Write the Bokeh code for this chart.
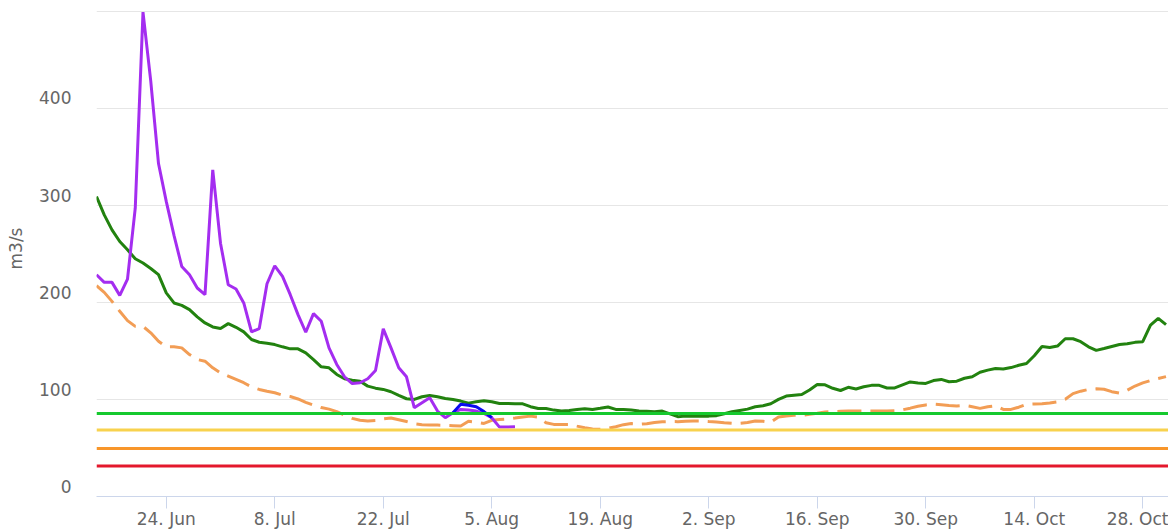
import pandas as pd
from bokeh.plotting import figure
from bokeh.models import Range1d, LinearAxis, FixedTicker, Span
from bokeh.embed import file_html
from bokeh.resources import INLINE

# ---------------- data ----------------
start_date = "2024-06-15"
tick_dates = ["2024-06-24", "2024-07-08", "2024-07-22", "2024-08-05", "2024-08-19",
              "2024-09-02", "2024-09-16", "2024-09-30", "2024-10-14", "2024-10-28"]
tick_labels = ["24. Jun", "8. Jul", "22. Jul", "5. Aug", "19. Aug",
               "2. Sep", "16. Sep", "30. Sep", "14. Oct", "28. Oct"]
y_grid_ticks = [0, 100, 200, 300, 400, 500]
y_label_ticks = [0, 100, 200, 300, 400]

# observed discharge this year (purple)
observed = [228.5, 220.6, 220.6, 207.2, 224, 297, 499, 428, 343, 304,
            269, 237, 228.5, 214.8, 208, 336.4, 261, 218.2, 213.8, 199.4,
            169.6, 173, 219.2, 237.7, 226.7, 207.9, 187.4, 169.2, 188.4, 180.5,
            153.1, 136, 123.3, 116.4, 117.2, 121.3, 129.8, 172.7, 153.1, 132.6,
            123.3, 91.5, 96.6, 101.7, 88, 81.2, 86.3, 89.7, 89, 88,
            85.6, 81.2, 71.5, 71.5, 71.9]

# short blue segment (starts 31 Jul)
blue_start = "2024-07-31"
blue_values = [86.3, 95, 94, 92.5, 87.5, 81.2]

# median (dark green)
median = [309, 290.1, 274.7, 262.7, 254.2, 244.9, 240.5, 234.9, 228.5, 209.7,
          199.4, 196.9, 192.5, 185, 178.8, 174.7, 173, 178.1, 174.3, 169.6,
          161.7, 158.9, 157.9, 156.5, 154.2,
          152.1, 152.1, 148, 141.1, 133.6, 132.6, 125.7, 121.3, 119.8, 118.8,
          113.7, 111.6, 110.3, 107.9, 104.1, 100.7, 100, 102.8, 104.1, 102.8,
          101, 100, 98.3, 96.2, 97.6, 98.6, 97.6, 95.9, 95.9, 95.6, 95.5, 92.5,
          90.7, 90.7, 89, 88, 88.7, 89.6, 90.5, 89.7, 90.9, 92.2,
          89.7, 89.7, 89, 88, 87.7, 87.4, 88, 85.2, 82.2, 82.8,
          82.8, 82.8, 82.8, 83.3, 85.3, 87.3, 88.7, 90, 92.5,
          93.5, 95.5, 100, 103.5, 104.4, 105, 109.8, 115.4, 115, 111.5,
          109.2, 112.5, 110.8, 113, 114.5, 114.5, 111.8, 111.8, 115, 118,
          117, 116.5, 119.4, 120.6, 118.2, 118.8, 121.8, 123.4, 128, 130.2,
          131.8, 131.3, 132.8, 135.2, 137, 145, 154.6, 153.5, 155, 162.5,
          162.5, 159.5, 154.2, 150.5, 152.4, 154.5, 156.6, 157.3, 158.8, 159.5,
          176.5, 183.5, 177]

# low quantile (dashed orange)
low_quantile = [217.2, 210.3, 201, 190.8, 181.2, 175.3, 175.3, 168.6, 160, 154.2,
                154.2, 153.1, 146.2, 141.1, 139.4, 132.6, 127.4, 124, 120.6, 117.2,
                113, 110.3, 108.5, 106.9, 104.4,
                103, 100.5, 97, 94.2, 91.6, 90, 87.5, 83.8, 80.5, 78.5,
                77.7, 78.2, 80, 80.8, 79, 77.2, 75, 74, 73.6, 73.6,
                73.4, 73, 72.6, 77.5, 76.5, 75.3, 78.5, 79.3, 79.8, 80.8,
                82, 82.8, 81.8, 76, 74.3, 74.3, 74.3, 72.5, 70.9, 69.6,
                69.2, 70.2, 71.9, 74, 75.1, 74.5, 75, 76.2, 77, 77.2,
                77.1, 77.6, 77.7, 77.7, 77.2, 76.8, 76.1, 75.5, 75.5, 76.2, 77.8,
                77.5, 76.5, 82, 83, 83.6, 83.6, 84.7, 85.8, 87, 87.5,
                87.8, 88, 88, 88, 88, 88, 88, 88.3, 89.3, 91,
                93, 94.3, 95.1, 94.5, 93.8, 93.2, 93.9, 92.5, 90.8, 92.5,
                93.5, 89.7, 89.7, 92, 95, 95.3, 95.6, 96.3, 97.5, 100.2,
                106, 108.5, 110.3, 110.9, 110.5, 108, 106.5, 109.5, 113.8, 117,
                119.5, 121.5, 123.5]

# threshold levels (m3/s)
thresholds = [85.5, 68.5, 49.5, 31.5]
threshold_colors = ["#16c92e", "#f8d24e", "#f8962a", "#e4182c"]

# ---------------- layout ----------------
W, H = 1168, 531
LEFT, BOTTOM = 96, 33
FRAME_W = W - LEFT
FRAME_H = H - BOTTOM
PX_PER_DAY = 7.75
TOP_GRID_PX = 10.7
Y_END = 500 * FRAME_H / (FRAME_H - TOP_GRID_PX)
LABEL_SHIFT = 10.3 * Y_END / FRAME_H

def ms(d):
    return pd.Timestamp(d).value / 1e6

dates = pd.date_range(start_date, periods=len(median), freq="D")
obs_dates = dates[:len(observed)]
blue_dates = pd.date_range(blue_start, periods=len(blue_values), freq="D")

x0 = ms(start_date)
x1 = x0 + FRAME_W / PX_PER_DAY * 86400000.0

p = figure(width=W, height=H, x_axis_type="datetime",
           x_range=Range1d(x0, x1), y_range=Range1d(0, Y_END),
           y_axis_location=None, output_backend="svg", toolbar_location=None,
           min_border_left=LEFT, min_border_right=0, min_border_top=0,
           min_border_bottom=BOTTOM)
p.outline_line_color = None
p.background_fill_color = "white"
p.border_fill_color = "white"

p.xgrid.visible = False
p.ygrid.ticker = FixedTicker(ticks=y_grid_ticks)
p.ygrid.grid_line_color = "#e6e6e6"
p.ygrid.grid_line_width = 1

xa = p.xaxis[0]
xa.ticker = FixedTicker(ticks=[ms(d) for d in tick_dates])
xa.major_label_overrides = {ms(d): lab for d, lab in zip(tick_dates, tick_labels)}
xa.axis_line_color = "#ccd6eb"
xa.axis_line_width = 1
xa.major_tick_line_color = "#ccd6eb"
xa.major_tick_line_width = 1
xa.major_tick_in = 0
xa.major_tick_out = 12
xa.minor_tick_line_color = None
xa.major_label_standoff = 0
xa.major_label_text_font = "DejaVu Sans"
xa.major_label_text_font_size = "17px"
xa.major_label_text_color = "#666666"

p.extra_y_ranges = {"lbl": Range1d(-LABEL_SHIFT, Y_END - LABEL_SHIFT)}
ya = LinearAxis(y_range_name="lbl", ticker=FixedTicker(ticks=y_label_ticks))
ya.axis_line_color = None
ya.major_tick_line_color = None
ya.minor_tick_line_color = None
ya.major_tick_in = 0
ya.major_tick_out = 0
ya.major_label_standoff = 25
ya.major_label_text_font = "DejaVu Sans"
ya.major_label_text_font_size = "17px"
ya.major_label_text_color = "#666666"
ya.axis_label = "m3/s"
ya.axis_label_text_font = "DejaVu Sans"
ya.axis_label_text_font_size = "17px"
ya.axis_label_text_font_style = "normal"
ya.axis_label_text_color = "#666666"
ya.axis_label_standoff = 10
p.add_layout(ya, "left")

# series
p.line(dates, low_quantile, line_color="#f29d55", line_width=3, line_dash="24 9")
p.line(dates, median, line_color="#22820f", line_width=3)
p.line(obs_dates, observed, line_color="#a42df0", line_width=3)
p.line(blue_dates, blue_values, line_color="#0b0bf0", line_width=3)

for v, c in zip(thresholds, threshold_colors):
    p.add_layout(Span(location=v, dimension="width", line_color=c, line_width=3))

open("out.html", "w").write(file_html(p, INLINE))
